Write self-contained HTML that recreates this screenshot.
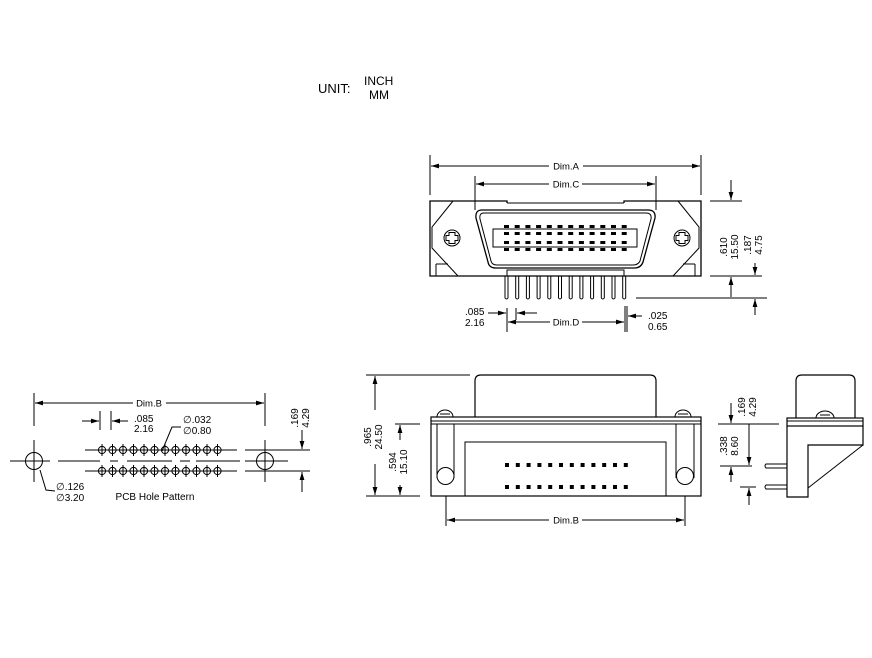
<!DOCTYPE html>
<html><head><meta charset="utf-8"><style>
html,body{margin:0;padding:0;background:#fff}
svg{display:block}
text{font-family:"Liberation Sans",Arial,sans-serif;fill:#000}
</style></head><body>
<svg width="872" height="658" viewBox="0 0 872 658" xmlns="http://www.w3.org/2000/svg">
<defs>
<marker id="a" viewBox="0 0 10 6" refX="10" refY="3" markerWidth="8" markerHeight="5" orient="auto-start-reverse" markerUnits="userSpaceOnUse"><path d="M0,0L10,3L0,6z" fill="#000"/></marker>
</defs>
<text x="318" y="93" font-size="13">UNIT:</text>
<text x="364" y="85" font-size="12">INCH</text>
<text x="369" y="99" font-size="12">MM</text>

<!-- ============ FRONT VIEW TOP ============ -->
<g stroke="#000" fill="none" stroke-width="1">
<line x1="430" y1="155" x2="430" y2="195"/><line x1="701" y1="155" x2="701" y2="195"/>
<line x1="431" y1="166" x2="549" y2="166" marker-start="url(#a)"/><line x1="583" y1="166" x2="700" y2="166" marker-end="url(#a)"/>
<line x1="475" y1="176" x2="475" y2="210"/><line x1="656" y1="176" x2="656" y2="210"/>
<line x1="476" y1="184" x2="549" y2="184" marker-start="url(#a)"/><line x1="582" y1="184" x2="655" y2="184" marker-end="url(#a)"/>
<!-- body -->
<path d="M507,203 L507,201 L430,201 L430,276 L701,276 L701,201 L624,201 L624,203" stroke-width="1.3"/>
<line x1="507" y1="203" x2="624" y2="203"/>
<path d="M453,201 L432,227 L432,248 L458,276" />
<path d="M678,201 L699,227 L699,248 L673,276" />
<path d="M436,264 L436,276 M436,264 L448,264"/>
<path d="M695,264 L695,276 M695,264 L683,264"/>
<!-- shell -->
<path d="M482,210 L648,210 Q656,210 655,218 L643,262 Q641,268 634,268 L496,268 Q489,268 488,262 L476,218 Q475,210 482,210 Z" stroke-width="1.3"/>
<path d="M484,213 L646,213 Q652,213 651,219 L640,261 Q638,265 633,265 L497,265 Q492,265 491,261 L480,219 Q479,213 484,213 Z"/>
<rect x="493" y="229" width="144" height="18"/>
<circle cx="452" cy="238" r="8"/><circle cx="682" cy="238" r="8"/>
<path d="M449,233h6v3h3v5h-3v3h-6v-3h-3v-5h3z" transform="translate(0,-0.5)"/>
<path d="M679,233h6v3h3v5h-3v3h-6v-3h-3v-5h3z" transform="translate(0,-0.5)"/>
<rect x="507" y="270" width="117" height="6"/>
</g>
<g fill="#000">
<g id="padrow">
<rect x="504" y="225" width="5" height="3"/><rect x="514.7" y="225" width="5" height="3"/><rect x="525.4" y="225" width="5" height="3"/><rect x="536.1" y="225" width="5" height="3"/><rect x="546.8" y="225" width="5" height="3"/><rect x="557.5" y="225" width="5" height="3"/><rect x="568.2" y="225" width="5" height="3"/><rect x="578.9" y="225" width="5" height="3"/><rect x="589.6" y="225" width="5" height="3"/><rect x="600.3" y="225" width="5" height="3"/><rect x="611" y="225" width="5" height="3"/><rect x="621.7" y="225" width="5" height="3"/>
</g>
<use href="#padrow" y="7"/><use href="#padrow" y="16"/><use href="#padrow" y="23"/>
</g>
<g stroke="#000" fill="none" stroke-width="1">
<g id="pin"><path d="M505,276 L505,298 Q506.5,300 508,298 L508,276"/></g>
<use href="#pin" x="10.7"/><use href="#pin" x="21.4"/><use href="#pin" x="32.1"/><use href="#pin" x="42.8"/><use href="#pin" x="53.5"/><use href="#pin" x="64.2"/><use href="#pin" x="74.9"/><use href="#pin" x="85.6"/><use href="#pin" x="96.3"/><use href="#pin" x="107"/><use href="#pin" x="117.7"/>
<line x1="710" y1="201" x2="742" y2="201"/><line x1="710" y1="276" x2="762" y2="276"/><line x1="636" y1="298" x2="767" y2="298"/>
<line x1="731" y1="180" x2="731" y2="200" marker-end="url(#a)"/>
<line x1="731" y1="297" x2="731" y2="277" marker-end="url(#a)"/>
<line x1="755" y1="263" x2="755" y2="275" marker-end="url(#a)"/>
<line x1="755" y1="315" x2="755" y2="299" marker-end="url(#a)"/>
<line x1="507" y1="308" x2="507" y2="332"/><line x1="516" y1="308" x2="516" y2="320"/>
<line x1="625" y1="306" x2="625" y2="332"/><line x1="627" y1="306" x2="627" y2="332"/>
<line x1="488" y1="313" x2="506" y2="313" marker-end="url(#a)"/>
<line x1="537" y1="313" x2="517" y2="313" marker-end="url(#a)"/>
<line x1="508" y1="322" x2="550" y2="322" marker-start="url(#a)"/><line x1="582" y1="322" x2="624" y2="322" marker-end="url(#a)"/>
<line x1="642" y1="316" x2="628" y2="316" marker-end="url(#a)"/>
</g>
<text x="566" y="169.5" font-size="9.5" text-anchor="middle">Dim.A</text>
<text x="566" y="187.5" font-size="9.5" text-anchor="middle">Dim.C</text>
<text x="566" y="325.5" font-size="9.5" text-anchor="middle">Dim.D</text>
<text x="465" y="315" font-size="10">.085</text><text x="465" y="326" font-size="10">2.16</text>
<text x="648" y="319" font-size="10">.025</text><text x="648" y="330" font-size="10">0.65</text>
<text transform="translate(727,247) rotate(-90)" font-size="10" text-anchor="middle">.610</text>
<text transform="translate(738,247) rotate(-90)" font-size="10" text-anchor="middle">15.50</text>
<text transform="translate(751,245) rotate(-90)" font-size="10" text-anchor="middle">.187</text>
<text transform="translate(762,245) rotate(-90)" font-size="10" text-anchor="middle">4.75</text>

<!-- ============ MIDDLE BOTTOM VIEW ============ -->
<g stroke="#000" fill="none" stroke-width="1">
<path d="M475,417 L475,381 Q475,375 481,375 L650,375 Q656,375 656,381 L656,417" stroke-width="1.2"/>
<rect x="431" y="417" width="270" height="79" stroke-width="1.2"/>
<line x1="431" y1="421" x2="701" y2="421"/><line x1="431" y1="424" x2="701" y2="424"/>
<path d="M465,496 L465,442 L666,442 L666,496"/>
<path d="M437,424 L437,478 M454,424 L454,478"/><circle cx="445.5" cy="476" r="8.5"/>
<path d="M676,424 L676,478 M694,424 L694,478"/><circle cx="685" cy="476" r="8.5"/>
<path d="M437,417 A8,7 0 0 1 453,417"/><path d="M440,414 L450,414"/>
<path d="M675,417 A8,7 0 0 1 691,417"/><path d="M678,414 L688,414"/>
<line x1="366" y1="375" x2="470" y2="375"/><line x1="366" y1="496" x2="420" y2="496"/><line x1="395" y1="424" x2="420" y2="424"/>
<line x1="375" y1="410" x2="375" y2="376" marker-end="url(#a)"/><line x1="375" y1="464" x2="375" y2="495" marker-end="url(#a)"/>
<line x1="400" y1="440" x2="400" y2="425" marker-end="url(#a)"/><line x1="400" y1="485" x2="400" y2="495" marker-end="url(#a)"/>
<line x1="446" y1="496" x2="446" y2="526"/><line x1="685" y1="496" x2="685" y2="526"/>
<line x1="447" y1="520" x2="549" y2="520" marker-start="url(#a)"/><line x1="582" y1="520" x2="684" y2="520" marker-end="url(#a)"/>
</g>
<g fill="#000">
<g id="dotrow"><rect x="505" y="463" width="4" height="4"/><rect x="515.8" y="463" width="4" height="4"/><rect x="526.6" y="463" width="4" height="4"/><rect x="537.4" y="463" width="4" height="4"/><rect x="548.2" y="463" width="4" height="4"/><rect x="559" y="463" width="4" height="4"/><rect x="569.8" y="463" width="4" height="4"/><rect x="580.6" y="463" width="4" height="4"/><rect x="591.4" y="463" width="4" height="4"/><rect x="602.2" y="463" width="4" height="4"/><rect x="613" y="463" width="4" height="4"/><rect x="623.8" y="463" width="4" height="4"/></g>
<use href="#dotrow" y="22"/>
</g>
<text x="566" y="523.5" font-size="9.5" text-anchor="middle">Dim.B</text>
<text transform="translate(371,437) rotate(-90)" font-size="10" text-anchor="middle">.965</text>
<text transform="translate(382,437) rotate(-90)" font-size="10" text-anchor="middle">24.50</text>
<text transform="translate(396,462) rotate(-90)" font-size="10" text-anchor="middle">.594</text>
<text transform="translate(407,462) rotate(-90)" font-size="10" text-anchor="middle">15.10</text>

<!-- ============ PCB HOLE PATTERN ============ -->
<g stroke="#000" fill="none" stroke-width="1">
<line x1="34" y1="393" x2="34" y2="426"/><line x1="265" y1="393" x2="265" y2="426"/>
<line x1="35" y1="403" x2="133" y2="403" marker-start="url(#a)"/><line x1="166" y1="403" x2="264" y2="403" marker-end="url(#a)"/>
<circle cx="34" cy="461" r="8.5"/><circle cx="265" cy="461" r="8.5"/>
<line x1="10" y1="461" x2="50" y2="461"/><line x1="34" y1="440" x2="34" y2="482"/>
<line x1="245" y1="461" x2="288" y2="461"/><line x1="265" y1="440" x2="265" y2="482"/>
<path d="M58,461 H100 M110,461 H118 M127,461 H172 M180,461 H190 M196,461 H240"/>
<line x1="85" y1="450" x2="237" y2="450"/><line x1="85" y1="471" x2="237" y2="471"/>
<line x1="100" y1="411" x2="100" y2="430"/><line x1="111" y1="411" x2="111" y2="430"/>
<line x1="82" y1="421" x2="99" y2="421" marker-end="url(#a)"/><line x1="128" y1="421" x2="112" y2="421" marker-end="url(#a)"/>
<polyline points="162,451 172,427 181,427" /><polyline points="40,470 46,490 55,491"/>
<line x1="245" y1="450" x2="310" y2="450"/><line x1="245" y1="471" x2="310" y2="471"/>
<line x1="302" y1="430" x2="302" y2="449" marker-end="url(#a)"/><line x1="302" y1="492" x2="302" y2="472" marker-end="url(#a)"/>
<g id="hole"><circle cx="102" cy="450" r="3.6"/><line x1="102" y1="444" x2="102" y2="456"/><circle cx="102" cy="471" r="3.6"/><line x1="102" y1="465" x2="102" y2="477"/></g>
<use href="#hole" x="10.5"/><use href="#hole" x="21"/><use href="#hole" x="31.5"/><use href="#hole" x="42"/><use href="#hole" x="52.5"/><use href="#hole" x="63"/><use href="#hole" x="73.5"/><use href="#hole" x="84"/><use href="#hole" x="94.5"/><use href="#hole" x="105"/><use href="#hole" x="115.5"/>
</g>
<text x="149" y="406.5" font-size="9.5" text-anchor="middle">Dim.B</text>
<text x="134" y="422" font-size="10">.085</text><text x="134" y="432" font-size="10">2.16</text>
<text x="183" y="423" font-size="10">∅.032</text><text x="183" y="434" font-size="10">∅0.80</text>
<text x="56" y="490" font-size="10">∅.126</text><text x="56" y="501" font-size="10">∅3.20</text>
<text x="155" y="500" font-size="10" text-anchor="middle">PCB Hole Pattern</text>
<text transform="translate(298,418) rotate(-90)" font-size="10" text-anchor="middle">.169</text>
<text transform="translate(309,418) rotate(-90)" font-size="10" text-anchor="middle">4.29</text>

<!-- ============ SIDE VIEW ============ -->
<g stroke="#000" fill="none" stroke-width="1">
<path d="M796,418 L796,381 Q796,375 802,375 L849,375 Q855,375 855,381 L855,418" stroke-width="1.2"/>
<rect x="787" y="418" width="76" height="8" stroke-width="1.2"/>
<line x1="787" y1="421" x2="863" y2="421"/>
<path d="M816,418 A9,7 0 0 1 834,418"/><path d="M820,415 L830,415"/>
<path d="M787,426 L787,497 L808,497 L808,445 L863,445 L863,426" stroke-width="1.2"/>
<line x1="863" y1="445" x2="808" y2="488"/>
<path d="M787,464 L766,464 Q764,466 766,468 L787,468"/>
<path d="M787,485 L766,485 Q764,487 766,489 L787,489"/>
<line x1="718" y1="424" x2="779" y2="424"/><line x1="720" y1="466" x2="752" y2="466"/><line x1="740" y1="487" x2="756" y2="487"/>
<line x1="731" y1="403" x2="731" y2="423" marker-end="url(#a)"/>
<line x1="731" y1="482" x2="731" y2="467" marker-end="url(#a)"/>
<line x1="749" y1="424" x2="749" y2="465" marker-end="url(#a)"/>
<line x1="749" y1="505" x2="749" y2="488" marker-end="url(#a)"/>
</g>
<text transform="translate(745,407) rotate(-90)" font-size="10" text-anchor="middle">.169</text>
<text transform="translate(756,407) rotate(-90)" font-size="10" text-anchor="middle">4.29</text>
<text transform="translate(727,446) rotate(-90)" font-size="10" text-anchor="middle">.338</text>
<text transform="translate(738,446) rotate(-90)" font-size="10" text-anchor="middle">8.60</text>
</svg>
</body></html>
